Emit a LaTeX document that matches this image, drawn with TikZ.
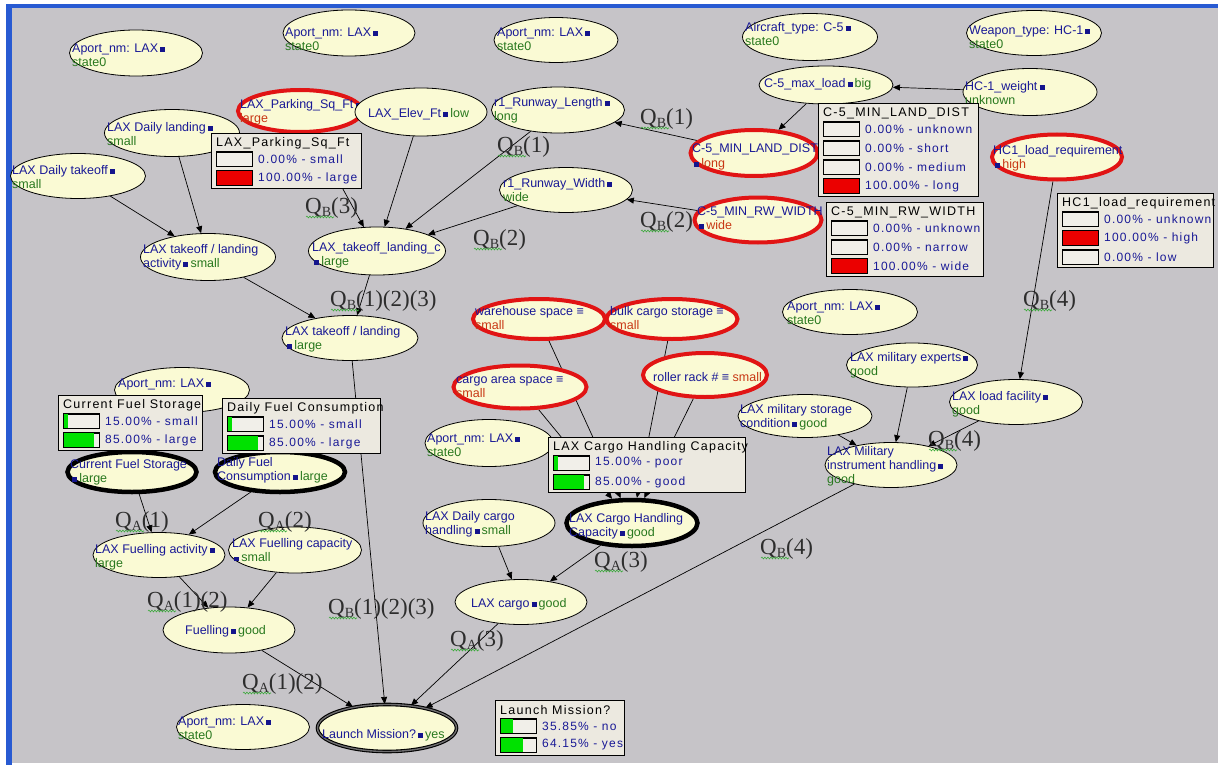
\documentclass[tikz,border=0pt]{standalone}
\usepackage{tikz}
\usepackage{fontspec}
\setmainfont{Liberation Sans}
\newfontfamily\serifq{Liberation Serif}
\newfontfamily\tabfont[LetterSpace=10]{Liberation Sans}
\usetikzlibrary{shapes.geometric,arrows.meta,decorations.pathmorphing}
\pgfdeclarelayer{back}\pgfdeclarelayer{edges}\pgfdeclarelayer{front}
\pgfsetlayers{back,edges,main,front}
\definecolor{bggray}{RGB}{198,196,200}
\definecolor{frameblue}{RGB}{40,90,210}
\definecolor{nodefill}{RGB}{250,250,212}
\definecolor{nmblue}{RGB}{25,25,150}
\definecolor{stgreen}{RGB}{40,120,30}
\definecolor{stred}{RGB}{200,55,20}
\definecolor{hired}{RGB}{225,20,20}
\definecolor{tabfill}{RGB}{236,233,224}
\definecolor{barfill}{RGB}{241,239,233}
\definecolor{barred}{RGB}{235,0,0}
\definecolor{bargreen}{RGB}{0,225,0}
\definecolor{qgray}{RGB}{45,45,45}
\definecolor{squig}{RGB}{60,170,60}
\definecolor{icb}{RGB}{20,20,140}
\newcommand\nm[1]{\textcolor{nmblue}{#1}}
\newcommand\sg[1]{\textcolor{stgreen}{#1}}
\newcommand\sr[1]{\textcolor{stred}{#1}}
\newcommand\ic{\,\textcolor{icb}{\rule[0.5pt]{5pt}{4.5pt}}\,}
\tikzset{
  bn/.style={ellipse, draw=black, line width=0.8pt, fill=nodefill, inner sep=0pt},
  nrm/.style={},
  hr/.style={draw=hired, line width=4pt},
  hb/.style={draw=black, line width=4.5pt},
  dbl/.style={draw=black, line width=1.1pt, double=bggray!55!black, double distance=1.4pt},
  nt/.style={anchor=west, align=left, inner sep=0pt, font=\fontsize{12.5}{14.2}\selectfont},
  conn/.style={-{Triangle[length=7pt,width=6pt]}, line width=0.7pt, draw=black},
  tab/.style={rectangle, draw=black, line width=0.8pt, fill=tabfill, inner sep=0pt},
  tt/.style={anchor=west, inner sep=0pt, font=\tabfont\fontsize{12.5}{13}\selectfont, text=black},
  rt/.style={anchor=west, inner sep=0pt, font=\tabfont\fontsize{12}{13}\selectfont, text=nmblue},
  bar/.style={rectangle, draw=black, line width=0.8pt, fill=barfill, inner sep=0pt, minimum width=36, minimum height=14},
  ql/.style={anchor=base west, inner sep=0pt, text=qgray, font=\serifq\fontsize{23}{23}\selectfont},
  sq/.style={draw=squig, line width=0.6pt, decorate, decoration={snake, amplitude=0.9pt, segment length=3pt}},
}
\newcommand\bnode[9]{%
  \node[bn,#6,minimum width=#4,minimum height=#5] (#1) at (#2,#3) {};
  \node[nt] (#1t) at (#7,#8) {#9};}
\newcommand\btab[6]{%
  \pgfmathsetmacro\tabh{36+19*(#5-1)}
  \node[tab, anchor=north west, minimum width=#4, minimum height=\tabh] (#1) at (#2,#3) {};
  \node[tt] (#1t) at ({#2+5},{#3+10}) {#6};}
\newcommand\brow[6]{%
  \node[bar, anchor=west] (#1) at ({#2+5},#3) {};
  \fill[#5] ({#2+5},{#3-7}) rectangle ({#2+5+36*#4},{#3+7});
  \draw[line width=0.8pt] (#1.north west) rectangle (#1.south east);
  \node[rt] (#1x) at ({#2+47},#3) {#6};}
\newcommand\qlab[5]{%
  \node[ql] (#1) at (#2,{#3+7.5}) {Q\raisebox{-3pt}{\fontsize{14}{14}\selectfont #4}#5};
  \draw[sq] ({#2+1},{#3+11}) -- ({#2+29},{#3+11});}
\begin{document}
\begin{tikzpicture}[x=1pt,y=-1pt]
\useasboundingbox (0,0) rectangle (1218,765);
\begin{pgfonlayer}{back}
\fill[white] (0,0) rectangle (1218,765);
\fill[bggray] (12,8) rectangle (1218,763);
\fill[frameblue] (6,4) rectangle (1218,8);
\fill[frameblue] (6,4) rectangle (12,765);
\end{pgfonlayer}

% ---------- nodes ----------
\bnode{a1}{136}{53}{133}{46}{nrm}{72}{55}{\nm{Aport\_nm: LAX}\ic\\\sg{state0}}
\bnode{a2}{349}{33}{132}{46}{nrm}{285}{39}{\nm{Aport\_nm: LAX}\ic\\\sg{state0}}
\bnode{a3}{556}{40}{124}{45}{nrm}{497}{39}{\nm{Aport\_nm: LAX}\ic\\\sg{state0}}
\bnode{park}{300}{111}{124}{42}{hr}{240}{112}{\nm{LAX\_Parking\_Sq\_Ft}\ic\\\sr{large}}
\bnode{elev}{421}{112}{132}{48}{nrm}{368}{114}{\nm{LAX\_Elev\_Ft}\ic\sg{low}}
\bnode{rl}{558}{110}{133}{46}{nrm}{494}{110}{\nm{r1\_Runway\_Length}\ic\\\sg{long}}
\bnode{rw}{566}{190}{133}{45}{nrm}{503}{190}{\nm{r1\_Runway\_Width}\ic\\\sg{wide}}
\bnode{dland}{172}{133}{135}{47}{nrm}{107}{134}{\nm{LAX Daily landing}\ic\\\sg{small}}
\bnode{dtk}{78}{176}{135}{45}{nrm}{12}{177}{\nm{LAX Daily takeoff}\ic\\\sg{small}}
\bnode{tla}{208}{257}{135}{47}{nrm}{143}{257}{\nm{LAX takeoff / landing}\\\nm{activity}\ic\sg{small}}
\bnode{tlc}{377}{251}{137}{48}{nrm}{312}{255}{\nm{LAX\_takeoff\_landing\_c}\\\ic\sg{large}}
\bnode{tl}{350}{338}{136}{45}{nrm}{285}{339}{\nm{LAX takeoff / landing}\\\ic\sg{large}}
\bnode{air}{810}{37}{135}{47}{nrm}{745}{34}{\nm{Aircraft\_type: C-5}\ic\\\sg{state0}}
\bnode{maxl}{826}{85}{134}{38}{nrm}{764}{84}{\nm{C-5\_max\_load}\ic\sg{big}}
\bnode{weap}{1034}{33}{135}{45}{nrm}{969}{37}{\nm{Weapon\_type: HC-1}\ic\\\sg{state0}}
\bnode{hcw}{1030}{92}{134}{47}{nrm}{965}{93}{\nm{HC-1\_weight}\ic\\\sg{unknown}}
\bnode{mld}{754}{153}{127}{46}{hr}{692}{157}{\nm{C-5\_MIN\_LAND\_DIST}\\\ic\sr{long}}
\bnode{mrw}{758}{220}{127}{45}{hr}{697}{218}{\nm{C-5\_MIN\_RW\_WIDTH}\\\ic\sr{wide}}
\bnode{hcl}{1057}{157}{130}{45}{hr}{993}{158}{\nm{HC1\_load\_requirement}\\\ic\sr{high}}
\bnode{wh}{539}{319}{132}{40}{hr}{475}{318}{\nm{warehouse space ≡}\\\sr{small}}
\bnode{bulk}{672}{319}{131}{40}{hr}{610}{318}{\nm{bulk cargo storage ≡}\\\sr{small}}
\bnode{carea}{520}{387}{133}{43}{hr}{456}{387}{\nm{cargo area space ≡}\\\sr{small}}
\bnode{roll}{705}{375}{124}{44}{hr}{653}{377}{\nm{roller rack \# ≡} \sr{small}}
\bnode{ar}{850}{312}{135}{45}{nrm}{787}{313}{\nm{Aport\_nm: LAX}\ic\\\sg{state0}}
\bnode{mexp}{912}{365}{131}{44}{nrm}{850}{365}{\nm{LAX military experts}\ic\\\sg{good}}
\bnode{mstor}{805}{416}{134}{43}{nrm}{740}{417}{\nm{LAX military storage}\\\nm{condition}\ic\sg{good}}
\bnode{instr}{891}{465}{132}{45}{nrm}{827}{466}{\nm{LAX Military}\\\nm{instrument handling}\ic\\\sg{good}}
\bnode{lfac}{1016}{402}{133}{45}{nrm}{952}{404}{\nm{LAX load facility}\ic\\\sg{good}}
\bnode{af}{182}{390}{135}{45}{nrm}{118}{384}{\nm{Aport\_nm: LAX}\ic}
\bnode{cfs}{132}{472}{129}{40}{hb}{70}{472}{\nm{Current Fuel Storage}\\\ic\sg{large}}
\bnode{dfc}{280}{472}{130}{40}{hb}{217}{470}{\nm{Daily Fuel}\\\nm{Consumption}\ic\sg{large}}
\bnode{ac}{489}{443}{128}{47}{nrm}{427}{445}{\nm{Aport\_nm: LAX}\ic\\\sg{state0}}
\bnode{fact}{159}{555}{132}{45}{nrm}{95}{557}{\nm{LAX Fuelling activity}\ic\\\sg{large}}
\bnode{fcap}{295}{550}{133}{46}{nrm}{232}{550}{\nm{LAX Fuelling capacity}\\\ic\sg{small}}
\bnode{fuel}{229}{630}{132}{46}{nrm}{185}{631}{\nm{Fuelling}\ic\sg{good}}
\bnode{dcargo}{489}{523}{132}{47}{nrm}{425}{524}{\nm{LAX Daily cargo}\\\nm{handling}\ic\sg{small}}
\bnode{cce}{632}{523}{131}{46}{hb}{569}{526}{\nm{LAX Cargo Handling}\\\nm{Capacity}\ic\sg{good}}
\bnode{lcargo}{521}{602}{132}{45}{nrm}{471}{604}{\nm{LAX cargo}\ic\sg{good}}
\bnode{ab}{243}{727}{133}{45}{nrm}{178}{728}{\nm{Aport\_nm: LAX}\ic\\\sg{state0}}
\bnode{launch}{387}{728}{139}{47}{dbl}{322}{735}{\nm{Launch Mission?}\ic\sg{yes}}

% ---------- connectors ----------
\begin{pgfonlayer}{edges}
\draw[conn] (dtk) -- (tla);
\draw[conn] (dland) -- (tla);
\draw[conn] (park) -- (tlc);
\draw[conn] (elev) -- (tlc);
\draw[conn] (rl) -- (tlc);
\draw[conn] (rw) -- (tlc);
\draw[conn] (maxl) -- (mld);
\draw[conn] (hcw) -- (maxl);
\draw[conn] (mld) -- (rl);
\draw[conn] (mrw) -- (rw);
\draw[conn] (tla) -- (tl);
\draw[conn] (tlc) -- (tl);
\draw[conn] (tl) -- (launch);
\draw[conn] (wh) -- (cce);
\draw[conn] (bulk) -- (cce);
\draw[conn] (carea) -- (cce);
\draw[conn] (roll) -- (cce);
\draw[conn] (cce) -- (lcargo);
\draw[conn] (dcargo) -- (lcargo);
\draw[conn] (lcargo) -- (launch);
\draw[conn] (cfs) -- (fact);
\draw[conn] (dfc) -- (fact);
\draw[conn] (fact) -- (fuel);
\draw[conn] (fcap) -- (fuel);
\draw[conn] (fuel) -- (launch);
\draw[conn] (hcl) -- (lfac);
\draw[conn] (mexp) -- (instr);
\draw[conn] (mstor) -- (instr);
\draw[conn] (lfac) -- (instr);
\draw[conn] (instr) -- (launch);
\end{pgfonlayer}

% ---------- belief tables ----------
\begin{pgfonlayer}{front}
\btab{tpark}{211}{133}{150}{2}{LAX\_Parking\_Sq\_Ft}
\brow{tparka}{211}{159}{0}{barred}{0.00\% - small}
\brow{tparkb}{211}{178}{1}{barred}{100.00\% - large}

\btab{tmld}{818}{103}{160}{4}{C-5\_MIN\_LAND\_DIST}
\brow{tmlda}{818}{129}{0}{barred}{0.00\% - unknown}
\brow{tmldb}{818}{148}{0}{barred}{0.00\% - short}
\brow{tmldc}{818}{167}{0}{barred}{0.00\% - medium}
\brow{tmldd}{818}{186}{1}{barred}{100.00\% - long}

\btab{tmrw}{826}{202}{157}{3}{C-5\_MIN\_RW\_WIDTH}
\brow{tmrwa}{826}{228}{0}{barred}{0.00\% - unknown}
\brow{tmrwb}{826}{247}{0}{barred}{0.00\% - narrow}
\brow{tmrwc}{826}{266}{1}{barred}{100.00\% - wide}

\btab{thcl}{1057}{193}{156}{3}{HC1\_load\_requirement}
\brow{thcla}{1057}{219}{0}{barred}{0.00\% - unknown}
\brow{thclb}{1057}{238}{1}{barred}{100.00\% - high}
\brow{thclc}{1057}{257}{0}{barred}{0.00\% - low}

\btab{tcfs}{58}{395}{144}{2}{Current Fuel Storage}
\brow{tcfsa}{58}{421}{0.15}{bargreen}{15.00\% - small}
\brow{tcfsb}{58}{440}{0.85}{bargreen}{85.00\% - large}

\btab{tdfc}{222}{398}{158}{2}{Daily Fuel Consumption}
\brow{tdfca}{222}{424}{0.15}{bargreen}{15.00\% - small}
\brow{tdfcb}{222}{443}{0.85}{bargreen}{85.00\% - large}

\btab{tcce}{548}{437}{197}{2}{LAX Cargo Handling Capacity}
\brow{tccea}{548}{463}{0.15}{bargreen}{15.00\% - poor}
\brow{tcceb}{548}{482}{0.85}{bargreen}{85.00\% - good}

\btab{tlaunch}{495}{700}{129}{2}{Launch Mission?}
\brow{tlauncha}{495}{726}{0.3585}{bargreen}{35.85\% - no}
\brow{tlaunchb}{495}{745}{0.6415}{bargreen}{64.15\% - yes}

% ---------- Q labels ----------
\qlab{q1}{305}{206}{B}{(3)}
\qlab{q2}{497}{145}{B}{(1)}
\qlab{q3}{473}{238}{B}{(2)}
\qlab{q4}{640}{117}{B}{(1)}
\qlab{q5}{640}{220}{B}{(2)}
\qlab{q6}{330}{299}{B}{(1)(2)(3)}
\qlab{q7}{1023}{299}{B}{(4)}
\qlab{q8}{928}{439}{B}{(4)}
\qlab{q9}{115}{520}{A}{(1)}
\qlab{q10}{258}{520}{A}{(2)}
\qlab{q11}{147}{600}{A}{(1)(2)}
\qlab{q12}{242}{682}{A}{(1)(2)}
\qlab{q13}{328}{607}{B}{(1)(2)(3)}
\qlab{q14}{450}{639}{A}{(3)}
\qlab{q15}{594}{560}{A}{(3)}
\qlab{q16}{760}{547}{B}{(4)}
\end{pgfonlayer}
\end{tikzpicture}
\end{document}
